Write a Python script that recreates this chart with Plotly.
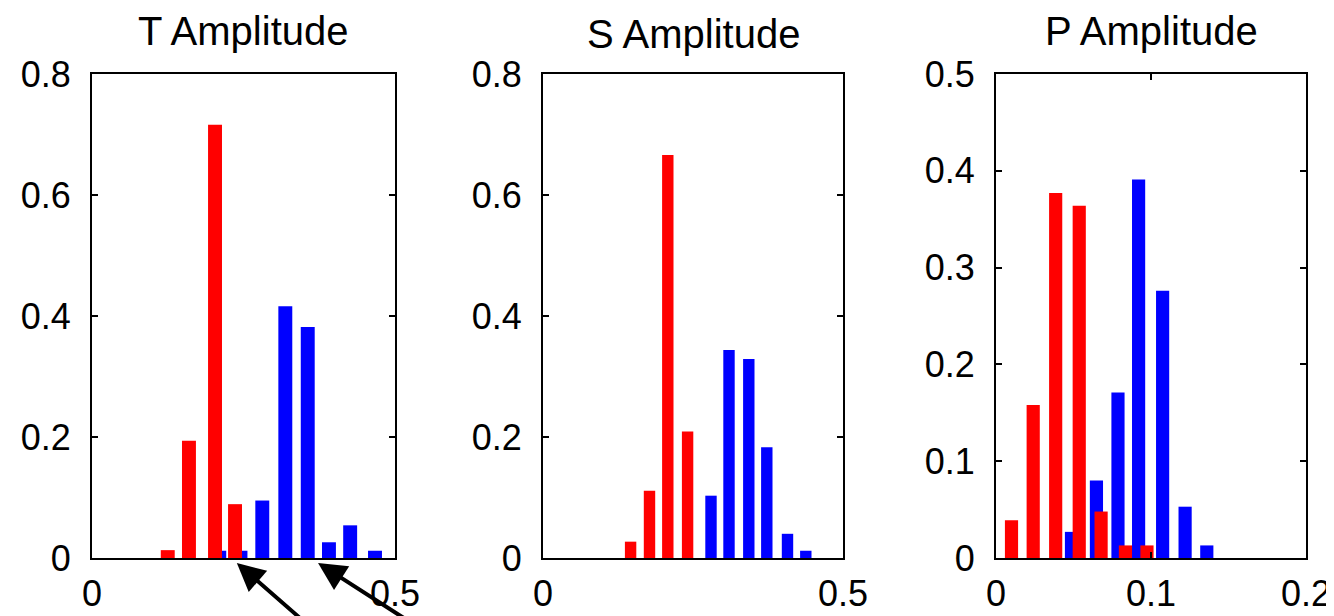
import plotly.graph_objects as go

# ---------------- data ----------------
titles = ["T Amplitude", "S Amplitude", "P Amplitude"]

t_red_x = [0.125, 0.160, 0.203, 0.236]
t_red_y = [0.013, 0.194, 0.716, 0.089]
t_blue_x = [0.210, 0.245, 0.281, 0.319, 0.356, 0.391, 0.426, 0.467]
t_blue_y = [0.012, 0.012, 0.095, 0.416, 0.382, 0.026, 0.054, 0.012]

s_red_x = [0.146, 0.1775, 0.208, 0.241]
s_red_y = [0.027, 0.111, 0.666, 0.209]
s_blue_x = [0.280, 0.310, 0.343, 0.373, 0.4075, 0.438]
s_blue_y = [0.103, 0.344, 0.329, 0.183, 0.040, 0.012]

p_red_x = [0.0100, 0.0240, 0.0385, 0.0537, 0.0678, 0.0835, 0.0974]
p_red_y = [0.039, 0.158, 0.377, 0.364, 0.048, 0.013, 0.013]
p_blue_x = [0.0487, 0.0648, 0.0787, 0.0920, 0.1075, 0.1220, 0.1360]
p_blue_y = [0.027, 0.080, 0.171, 0.391, 0.276, 0.053, 0.013]

x_ranges = [[0, 0.5], [0, 0.5], [0, 0.2]]
y_ranges = [[0, 0.8], [0, 0.8], [0, 0.5]]
x_ticks = [[0, 0.5], [0, 0.5], [0, 0.1, 0.2]]
y_ticks = [[0, 0.2, 0.4, 0.6, 0.8], [0, 0.2, 0.4, 0.6, 0.8],
           [0, 0.1, 0.2, 0.3, 0.4, 0.5]]
bar_widths = [0.023, 0.019, 0.0085]

# arrows point at these x positions on the first panel's baseline
arrow_x = [0.239, 0.373]

# ---------------- figure ----------------
W, H = 1334, 616
OFF = 8  # page body margin offsets the figure on screen
FONT = "Liberation Sans, Arial, Helvetica, sans-serif"
RED, BLUE = "#ff0000", "#0000ff"


def px(x):
    return (x - OFF) / W


def py(y):
    return 1 - (y - OFF) / H


x_domains = [[px(92), px(395)], [px(543), px(843)], [px(996), px(1306)]]
y_domain = [py(558), py(74)]

panels = [
    (t_red_x, t_red_y, t_blue_x, t_blue_y),
    (s_red_x, s_red_y, s_blue_x, s_blue_y),
    (p_red_x, p_red_y, p_blue_x, p_blue_y),
]

fig = go.Figure()
layout = dict(
    width=W, height=H,
    margin=dict(l=0, r=0, t=0, b=0, autoexpand=False),
    paper_bgcolor="white", plot_bgcolor="white",
    showlegend=False, barmode="overlay",
    font=dict(family=FONT, color="black"),
)

for i, (rx, ry, bx, by) in enumerate(panels):
    n = "" if i == 0 else str(i + 1)
    xa, ya = "x" + n, "y" + n
    fig.add_trace(go.Bar(x=bx, y=by, width=bar_widths[i], marker_color=BLUE,
                         marker_line_width=0, xaxis=xa, yaxis=ya))
    fig.add_trace(go.Bar(x=rx, y=ry, width=bar_widths[i], marker_color=RED,
                         marker_line_width=0, xaxis=xa, yaxis=ya))
    common = dict(showline=True, linecolor="black", linewidth=2, mirror="ticks",
                  ticks="inside", ticklen=6, tickwidth=2, tickcolor="black",
                  showgrid=False, zeroline=False, automargin=False,
                  tickfont=dict(size=36, family=FONT, color="black"))
    layout["xaxis" + n] = dict(common, domain=x_domains[i], range=x_ranges[i],
                               tickvals=x_ticks[i],
                               ticktext=[f"{v:g}" for v in x_ticks[i]],
                               anchor=ya, ticklabelstandoff=3)
    layout["yaxis" + n] = dict(common, domain=y_domain, range=y_ranges[i],
                               tickvals=y_ticks[i],
                               ticktext=[f"{v:g}" for v in y_ticks[i]],
                               anchor=xa, ticklabelstandoff=12)

fig.update_layout(**layout)

# titles
for i, t in enumerate(titles):
    cx = (x_domains[i][0] + x_domains[i][1]) / 2
    ypix = 34 if i == 1 else 31
    fig.add_annotation(text=t, xref="paper", yref="paper", x=cx, y=py(ypix),
                       xanchor="center", yanchor="middle", showarrow=False,
                       font=dict(size=40, family=FONT, color="black"))

# arrows (head just under the first panel's baseline)
for ax_x, (dx, dy) in zip(arrow_x, [(70, 72), (95, 68)]):
    fig.add_annotation(x=ax_x, y=py(563), xref="x", yref="paper", text="",
                       showarrow=True, arrowhead=2, arrowsize=1.4, arrowwidth=4,
                       arrowcolor="black", ax=dx, ay=dy, standoff=0)

fig.write_html("out.html")
